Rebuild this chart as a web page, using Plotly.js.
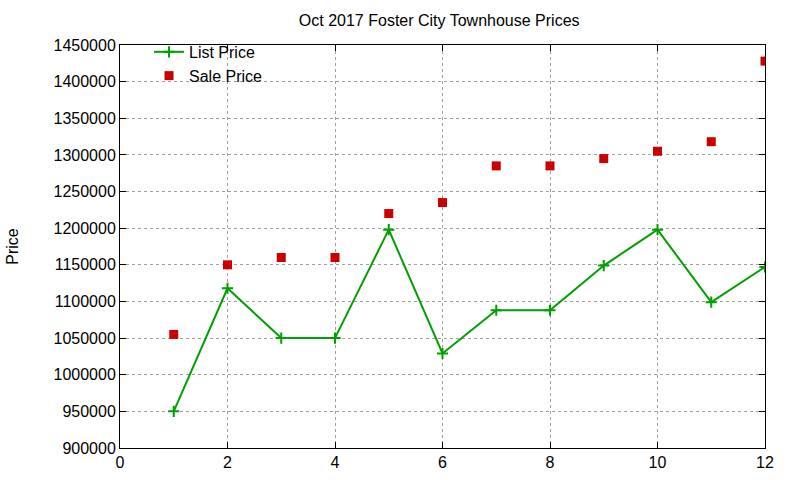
<!DOCTYPE html>
<html>
<head>
<meta charset="utf-8">
<script src="https://cdn.plot.ly/plotly-3.0.1.min.js"></script>
<style>
  html, body { margin: 0; padding: 0; background: #fff; }
  #chart { width: 800px; height: 480px; }
</style>
</head>
<body>
<div id="chart"></div>
<script>
// month index and prices
const months = [1, 2, 3, 4, 5, 6, 7, 8, 9, 10, 11, 12];
const listPrice = [950000, 1118000, 1050000, 1050000, 1198000, 1029000,
                   1088000, 1088000, 1149000, 1198000, 1099000, 1147000];
const salePrice = [1055000, 1150000, 1160000, 1160000, 1220000, 1235000,
                   1285000, 1285000, 1295000, 1305000, 1318000, 1428000];
const yTicks = [900000, 950000, 1000000, 1050000, 1100000, 1150000, 1200000,
                1250000, 1300000, 1350000, 1400000, 1450000];

const font = { family: "Liberation Sans, Arial, sans-serif", size: 16, color: "#000" };

const data = [
  {
    x: months,
    y: listPrice,
    name: "List Price",
    type: "scatter",
    mode: "lines+markers",
    line: { color: "#00a000", width: 2 },
    marker: { symbol: "cross-thin", size: 8, color: "#00a000", line: { color: "#00a000", width: 2 } }
  },
  {
    x: months,
    y: salePrice,
    name: "Sale Price",
    type: "scatter",
    mode: "markers",
    marker: { symbol: "square", size: 9, color: "#cc0000" }
  }
];

const axisCommon = {
  showline: true,
  linecolor: "#000",
  linewidth: 1,
  mirror: "ticks",
  ticks: "inside",
  ticklen: 6,
  tickcolor: "#000",
  showgrid: true,
  gridcolor: "#a0a0a0",
  griddash: "dot",
  gridwidth: 1,
  zeroline: false,
  tickfont: font
};

const layout = {
  width: 800,
  height: 480,
  margin: { l: 120, r: 35, t: 45, b: 32 },
  paper_bgcolor: "#fff",
  plot_bgcolor: "#fff",
  font: font,
  title: { text: "Oct 2017 Foster City Townhouse Prices", x: 0.549, xanchor: "center", y: 0.957, yanchor: "middle", font: font },
  xaxis: Object.assign({}, axisCommon, {
    range: [0, 12],
    tickmode: "linear",
    tick0: 0,
    dtick: 2
  }),
  yaxis: Object.assign({}, axisCommon, {
    range: [900000, 1450000],
    tickmode: "array",
    tickvals: yTicks,
    ticktext: yTicks.map(String),
    title: { text: "Price", font: font, standoff: 30 }
  }),
  showlegend: true,
  legend: {
    x: 0.045,
    y: 1.025,
    xanchor: "left",
    yanchor: "top",
    bgcolor: "rgba(0,0,0,0)",
    font: font,
    tracegroupgap: 0,
    itemwidth: 30
  }
};

Plotly.newPlot("chart", data, layout, { displayModeBar: false, staticPlot: true });
</script>
</body>
</html>
